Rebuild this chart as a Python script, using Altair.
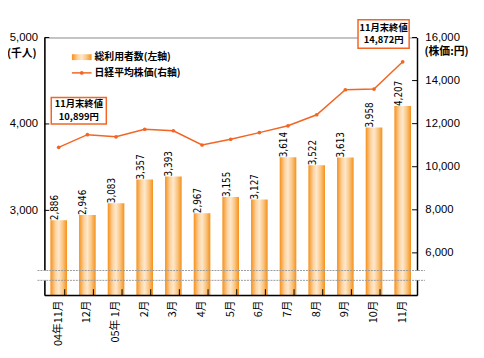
import altair as alt
import pandas as pd

months = ["04年11月", "12月", "05年 1月", "2月", "3月", "4月", "5月", "6月",
          "7月", "8月", "9月", "10月", "11月"]
users = [2886, 2946, 3083, 3357, 3393, 2967, 3155, 3127, 3614, 3522, 3613, 3958, 4207]
nikkei = [10899, 11489, 11388, 11741, 11669, 11009, 11277, 11584, 11900, 12413, 13574, 13607, 14872]
left_ticks = [3000, 4000, 5000]
right_ticks = [6000, 8000, 10000, 12000, 14000, 16000]

W, H = 379, 262
ORANGE = "#F26522"
NUM_FONT = "Liberation Sans"
JP_FONT = "Noto Sans CJK JP"

df = pd.DataFrame({"month": months, "users": users, "nikkei": nikkei,
                   "ulabel": [f"{v:,}" for v in users]})

xenc = alt.X("month:N", sort=months, title=None,
             scale=alt.Scale(paddingInner=0.42, paddingOuter=0.21),
             axis=alt.Axis(labelAngle=270, labelFont=JP_FONT, labelFontSize=11,
                           labelColor="#000", ticks=False, domainColor="#000",
                           domainWidth=1.5, labelPadding=5, zindex=1))

yl = alt.Scale(domain=[2020, 5000], nice=False, zero=False)
yr = alt.Scale(domain=[4040, 16000], nice=False, zero=False)

grad = alt.Gradient(gradient="linear", x1=0, x2=1, y1=0, y2=0,
                    stops=[alt.GradientStop(color="#F5901A", offset=0),
                           alt.GradientStop(color="#FCD3A0", offset=0.3),
                           alt.GradientStop(color="#FEE8CC", offset=0.5),
                           alt.GradientStop(color="#FAC47E", offset=0.75),
                           alt.GradientStop(color="#F5901A", offset=1)])

base = alt.Chart(df)

bars = base.mark_bar(color=grad, clip=True).encode(
    x=xenc,
    y=alt.Y("users:Q", scale=yl, title=None,
            axis=alt.Axis(values=left_ticks, format=",d", ticks=False, labelFont=NUM_FONT,
                          labelFontSize=11.5, labelColor="#000", domainColor="#000",
                          domainWidth=1.5, labelPadding=7, grid=False, orient="left")),
)
bar_text = base.mark_text(angle=270, align="left", baseline="middle", dy=-4,
                          font="DejaVu Sans Condensed", fontSize=10, color="#000").encode(
    x=alt.X("month:N", sort=months), y=alt.Y("users:Q", scale=yl), text="ulabel:N")

lt = pd.DataFrame({"v": left_ticks})
left_tick_marks = alt.Chart(lt).mark_rule(color="#000").encode(
    y=alt.Y("v:Q", scale=yl), x=alt.value(0), x2=alt.value(5))

# x-axis inner ticks between bars
xt = pd.DataFrame({"month": months[1:]})
x_ticks = alt.Chart(xt).mark_rule(color="#000").encode(
    x=alt.X("month:N", sort=months), xOffset=alt.value(-W / 13 / 2),
    y=alt.value(H - 6), y2=alt.value(H))

left_layer = alt.layer(bars, bar_text, left_tick_marks, x_ticks)

line = base.mark_line(color=ORANGE, strokeWidth=1.5,
                      point=alt.OverlayMarkDef(color=ORANGE, size=14, filled=True)).encode(
    x=alt.X("month:N", sort=months),
    y=alt.Y("nikkei:Q", scale=yr, title=None,
            axis=alt.Axis(values=right_ticks, format=",d", ticks=False, labelFont=NUM_FONT,
                          labelFontSize=11.5, labelColor="#000", domainColor="#000",
                          domainWidth=1.5, labelPadding=8, grid=False, orient="right")),
)
rt = pd.DataFrame({"v": right_ticks})
right_tick_marks = alt.Chart(rt).mark_rule(color="#000").encode(
    y=alt.Y("v:Q", scale=yr), x=alt.value(W - 5), x2=alt.value(W))

right_layer = alt.layer(line, right_tick_marks)

one = alt.Data(values=[{}])


def txt(s, x, y, size=10, font=JP_FONT, align="left", weight="normal", color="#000"):
    return alt.Chart(one).mark_text(text=s, font=font, fontSize=size, align=align,
                                    baseline="middle", fontWeight=weight, color=color).encode(
        x=alt.value(x), y=alt.value(y))


def rect(x, x2, y, y2, fill="white", stroke=None, sw=1.0):
    kw = dict(fill=fill)
    if stroke:
        kw.update(stroke=stroke, strokeWidth=sw)
    return alt.Chart(one).mark_rect(**kw).encode(
        x=alt.value(x), x2=alt.value(x2), y=alt.value(y), y2=alt.value(y2))


def hline(x, x2, y, color="#999", dash=None, sw=1.0):
    kw = dict(color=color, strokeWidth=sw)
    if dash:
        kw.update(strokeDash=dash)
    return alt.Chart(one).mark_rule(**kw).encode(
        x=alt.value(x), x2=alt.value(x2), y=alt.value(y))


decor = [
    # axis unit titles
    txt("(千人)", -23, 17, size=11, align="center", weight="bold"),
    txt("(株価:円)", W + 30, 15, size=11, align="center", weight="bold"),
    # legend
    rect(28, 48, 17, 23, fill=grad),
    txt("総利用者数(左軸)", 51, 20, size=10, weight="bold"),
    hline(28, 48, 36, color=ORANGE, sw=1.5),
    alt.Chart(one).mark_point(filled=True, color=ORANGE, size=14, opacity=1).encode(
        x=alt.value(38), y=alt.value(36)),
    txt("日経平均株価(右軸)", 51, 36, size=10, weight="bold"),
    # annotation boxes
    rect(7, 63, 61, 88, fill="white", stroke=ORANGE, sw=1.5),
    txt("11月末終値", 35, 68, size=9.5, align="center", weight="bold"),
    txt("10,899円", 35, 81, size=9.5, align="center", weight="bold"),
    rect(319, 371, -18, 11, fill="white", stroke=ORANGE, sw=1.5),
    txt("11月末終値", 345, -10, size=9.5, align="center", weight="bold"),
    txt("14,872円", 345, 3, size=9.5, align="center", weight="bold"),
    # axis break
    rect(-3, 3, 237, 247),
    rect(W - 3, W + 3, 237, 247),
    hline(-7, W + 8, 237, dash=[2, 1]),
    hline(-7, W + 8, 247, dash=[2, 1]),
]

chart = alt.layer(left_layer, right_layer, *decor).resolve_scale(y="independent").properties(
    width=W, height=H,
    autosize=alt.AutoSizeParams(type="none"),
    padding={"left": 37, "top": 27, "right": 60, "bottom": 62},
).configure_view(stroke="#888", strokeWidth=1)

chart.save("out.html", embed_options={"renderer": "svg", "actions": False})
